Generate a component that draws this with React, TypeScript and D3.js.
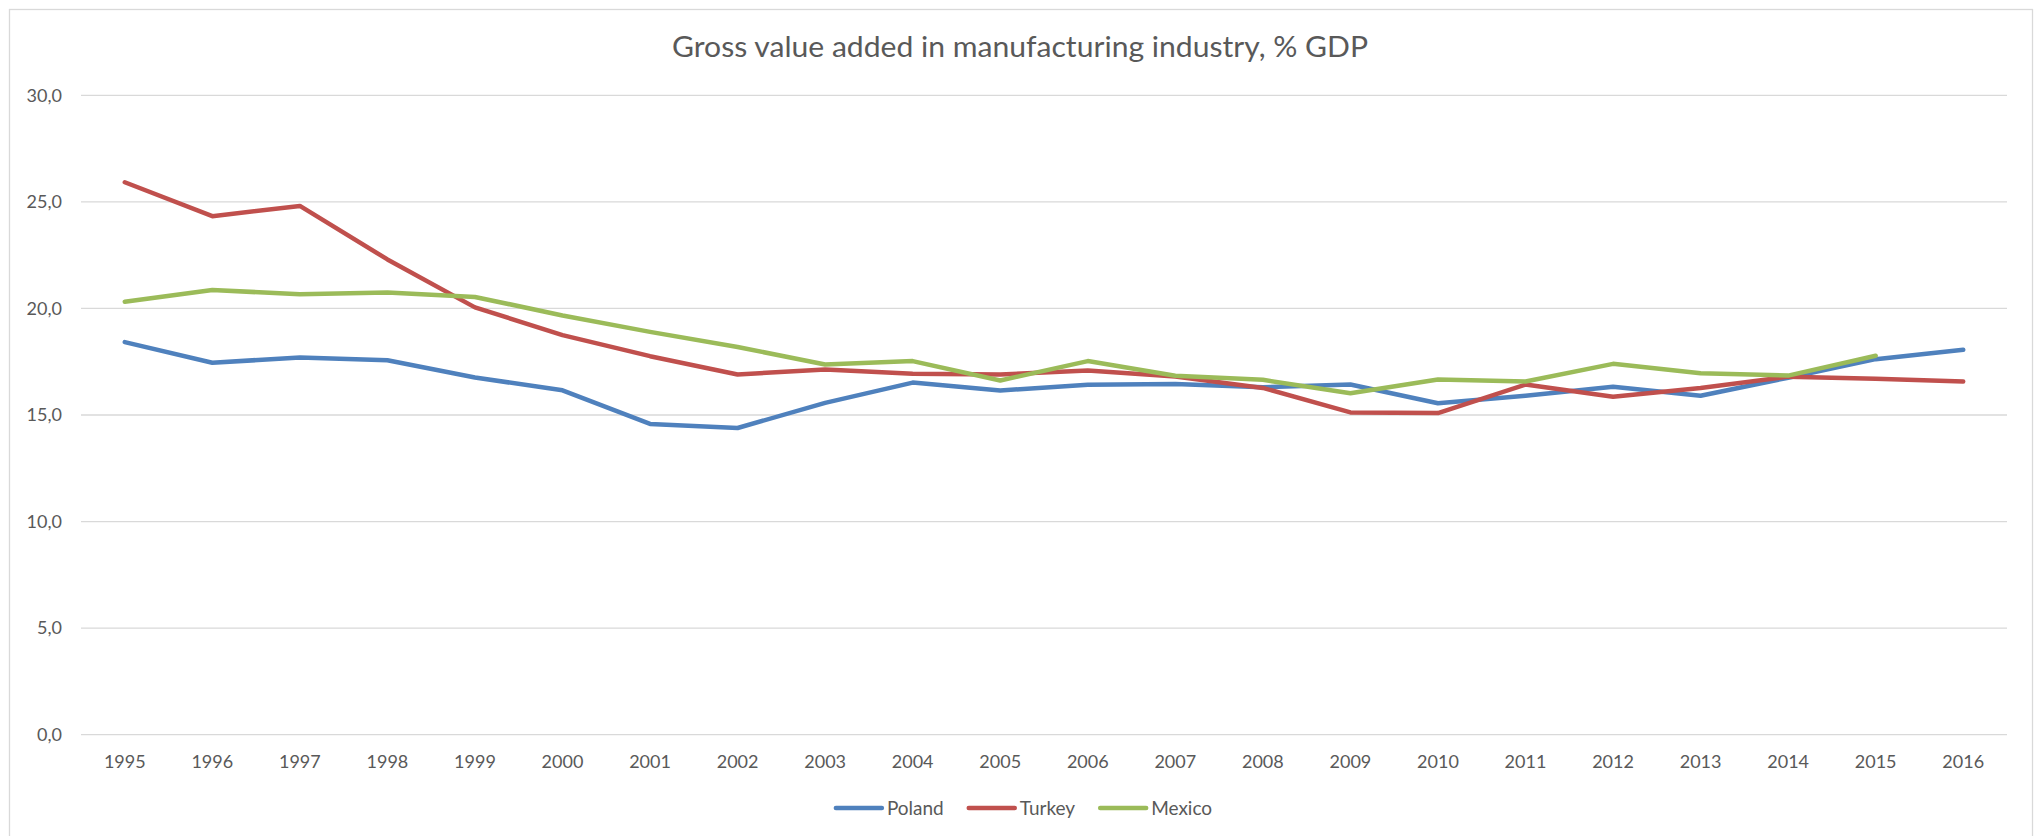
import React, { useMemo } from "react";
import * as d3 from "d3";

const years = ["1995","1996","1997","1998","1999","2000","2001","2002","2003","2004","2005","2006","2007","2008","2009","2010","2011","2012","2013","2014","2015","2016"];
const poland = [18.42,17.45,17.70,17.57,16.76,16.16,14.58,14.39,15.57,16.52,16.15,16.42,16.46,16.30,16.43,15.55,15.90,16.33,15.90,16.75,17.62,18.06];
const turkey = [25.92,24.33,24.81,22.30,20.05,18.75,17.76,16.90,17.14,16.93,16.90,17.09,16.81,16.27,15.12,15.09,16.43,15.86,16.27,16.80,16.70,16.57];
const mexico: (number | null)[] = [20.31,20.86,20.67,20.75,20.54,19.67,18.90,18.19,17.37,17.53,16.62,17.53,16.84,16.65,16.02,16.67,16.57,17.40,16.96,16.85,17.78,null];
const yTicks = [0,5,10,15,20,25,30];
const seriesNames = ["Poland","Turkey","Mexico"];
const seriesColors = ["#4F81BD","#C0504D","#9BBB59"];
const title = "Gross value added in manufacturing industry, % GDP";

const W = 2035, H = 836;
const FONT = "Lato, 'Open Sans', sans-serif";
const TXT = "#595959";

export default function App() {
  const x = d3.scaleBand<string>().domain(years).range([81, 2007]).padding(0);
  const y = d3.scaleLinear().domain([0, 30]).range([734.7, 95.3]);
  const cx = (yr: string) => (x(yr) as number) + x.bandwidth() / 2;

  const series = [poland, turkey, mexico];
  const line = d3.line<number | null>()
    .defined((d) => d != null)
    .x((_, i) => cx(years[i]))
    .y((d) => y(d as number));

  const legend = useMemo(() => {
    const canvas = document.createElement("canvas");
    const ctx = canvas.getContext("2d")!;
    ctx.font = `19px ${FONT}`;
    const lineLen = 50, gapText = 3, gapItem = 23;
    const widths = seriesNames.map((n) => lineLen + gapText + ctx.measureText(n).width);
    const total = widths.reduce((a, b) => a + b, 0) + gapItem * (seriesNames.length - 1);
    let start = 1023 - total / 2;
    return seriesNames.map((n, i) => {
      const s = start;
      start += widths[i] + gapItem;
      return { name: n, x: s, color: seriesColors[i], lineLen, gapText };
    });
  }, []);

  return (
    <svg width={W} height={H} style={{ position: "absolute", left: 0, top: 0, background: "#fff" }}>
      <rect x={9.5} y={9.5} width={2023} height={840} fill="#fff" stroke="#d9d9d9" strokeWidth={1.3} />
      <text x={1020} y={56.5} textAnchor="middle" fontFamily={FONT} fontSize={28} fill={TXT}
        textLength={696} lengthAdjust="spacingAndGlyphs">{title}</text>
      {yTicks.map((t) => (
        <g key={t}>
          <line x1={81} x2={2007} y1={y(t)} y2={y(t)} stroke="#d9d9d9" strokeWidth={1.3} />
          <text x={62} y={y(t) + 6.3} textAnchor="end" fontFamily={FONT} fontSize={18} fill={TXT}>
            {d3.format(".1f")(t).replace(".", ",")}
          </text>
        </g>
      ))}
      {years.map((yr) => (
        <text key={yr} x={cx(yr)} y={768.3} textAnchor="middle" fontFamily={FONT} fontSize={18} fill={TXT}>{yr}</text>
      ))}
      {series.map((s, i) => (
        <path key={seriesNames[i]} d={line(s as (number | null)[]) || ""} fill="none" stroke={seriesColors[i]}
          strokeWidth={4.5} strokeLinejoin="round" strokeLinecap="round" />
      ))}
      {legend.map((l) => (
        <g key={l.name}>
          <line x1={l.x + 2} x2={l.x + l.lineLen - 2} y1={808} y2={808} stroke={l.color} strokeWidth={4.5} strokeLinecap="round" />
          <text x={l.x + l.lineLen + l.gapText} y={814.8} fontFamily={FONT} fontSize={19} fill={TXT}>{l.name}</text>
        </g>
      ))}
    </svg>
  );
}
